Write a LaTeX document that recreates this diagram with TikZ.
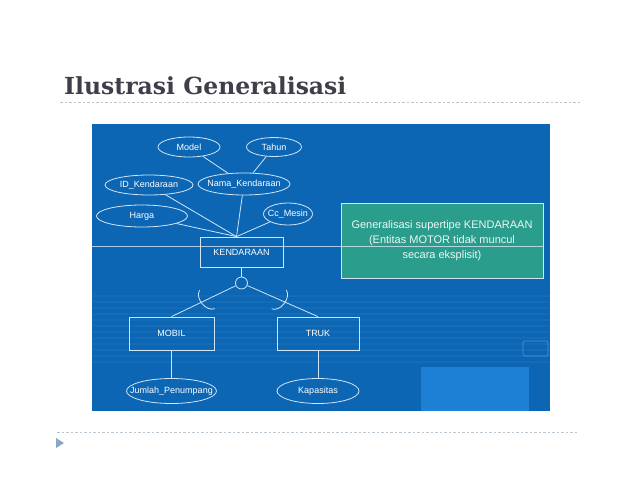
\documentclass[tikz,border=0pt]{standalone}
\usepackage{fontspec}
\setmainfont{Liberation Sans}
\newfontfamily\titlefont{DejaVu Serif}
\usetikzlibrary{positioning, calc, shapes.geometric}

\newcommand{\zw}[1]{\makebox[0pt]{#1}}

\begin{document}
\begin{tikzpicture}[
    x=1pt, y=-1pt,
    font=\fontsize{9}{11}\selectfont,
    attr/.style 2 args={ellipse, draw=lineW, line width=0.8pt, inner sep=0pt, text=white, minimum width=#1, minimum height=#2},
    entity/.style 2 args={rectangle, draw=lineW, line width=0.8pt, inner sep=0pt, text=white, minimum width=#1, minimum height=#2},
    link/.style={draw=lineW, line width=0.8pt},
    ruler/.style={draw=rulerG, line width=0.6pt, dash pattern=on 2.5pt off 2pt},
    notebox/.style={rectangle, draw=lineW, line width=0.6pt, fill=noteG, text=white!92!noteG, align=center, inner sep=0pt,
        minimum width=202, minimum height=75, font=\fontsize{11}{15}\selectfont},
]

% slide colours
\definecolor{slideB}{RGB}{12,102,180}
\definecolor{paleB}{RGB}{30,128,212}
\definecolor{lineW}{RGB}{208,230,246}
\definecolor{noteG}{RGB}{42,157,140}
\definecolor{titleG}{RGB}{63,63,74}
\definecolor{rulerG}{RGB}{186,198,208}
\definecolor{bulletB}{RGB}{138,165,197}

\useasboundingbox (0,0) rectangle (638,493);

% ===== Title and rulers =====
\node[anchor=base west, inner sep=0pt, text=titleG, font=\titlefont\bfseries\fontsize{23.5}{28}\selectfont] (title) at (64,94) {Ilustrasi Generalisasi};
\draw[ruler] (60,102) -- (580,102);
\draw[ruler] (57,432) -- (578,432);
\fill[bulletB] (56,438) -- (64,443) -- (56,448) -- cycle;

% ===== Blue picture panel =====
\fill[slideB] (92,124) rectangle (550,411);
\foreach \y in {296,302,...,362} {
    \draw[white, opacity=0.04, line width=1.2pt] (92,\y) -- (550,\y);
}
\fill[paleB] (421,367) rectangle (529,411);
\draw[lineW, opacity=0.35, rounded corners=2pt, line width=0.6pt] (523,341) rectangle (548,356);

% ===== Supertype with its attributes =====
\node[entity={83}{30}] (kend) at (241.5,252) {KENDARAAN};
\coordinate (kt) at ($(kend.north)+(-5,0)$);

\node[attr={62}{20}] (model) at (189,147) {\zw{Model}};
\node[attr={55}{19}] (tahun) at (274,147) {\zw{Tahun}};
\node[attr={88}{20}] (idk) at (149,185) {\zw{ID\_Kendaraan}};
\node[attr={92}{22}] (nama) at (244,184) {\zw{Nama\_Kendaraan}};
\node[attr={91}{22}] (harga) at (142,216) {\zw{Harga}};
\node[attr={49}{22}] (ccm) at (288,214) {\zw{Cc\_Mesin}};

\draw[link] (model) -- (nama);
\draw[link] (tahun) -- (nama);
\draw[link] (idk) -- (kt);
\draw[link] (nama) -- (kt);
\draw[link] (harga) -- (kt);
\draw[link] (ccm) -- (kt);

% ===== Note =====
\node[notebox] (note) at (442,240.5) {Generalisasi supertipe KENDARAAN\\(Entitas MOTOR tidak muncul\\secara eksplisit)};
\draw[lineW, line width=0.5pt, opacity=0.8] (92,246) -- (note.east |- 0,246);

% ===== Generalisation to subtypes =====
\node[circle, draw=lineW, line width=0.8pt, minimum size=12, inner sep=0pt] (isa) at (241.5,283) {};
\node[entity={85}{33}] (mobil) at (171.5,333.5) {MOBIL};
\node[entity={82}{33}] (truk) at (318,333.5) {TRUK};

\draw[link] (kend) -- (isa);
\draw[link] (isa) -- (mobil.north);
\draw[link] (isa) -- (truk.north);

% subset cups on both branches, open towards the circle
\coordinate (subL) at ($(isa)!0.49!(mobil.north)$);
\coordinate (subR) at ($(isa)!0.49!(truk.north)$);
\draw[link] ($(subL)!12pt!104:(isa)$) to[bend right=70] ($(subL)!12pt!-76:(isa)$);
\draw[link] ($(subR)!12pt!76:(isa)$) to[bend right=70] ($(subR)!12pt!-104:(isa)$);

% ===== Subtype attributes =====
\node[attr={90}{25}] (jumlah) at (171.5,391) {\zw{Jumlah\_Penumpang}};
\node[attr={82}{25}] (kap) at (318,391) {\zw{Kapasitas}};
\draw[link] (mobil) -- (jumlah);
\draw[link] (truk) -- (kap);

\end{tikzpicture}
\end{document}
